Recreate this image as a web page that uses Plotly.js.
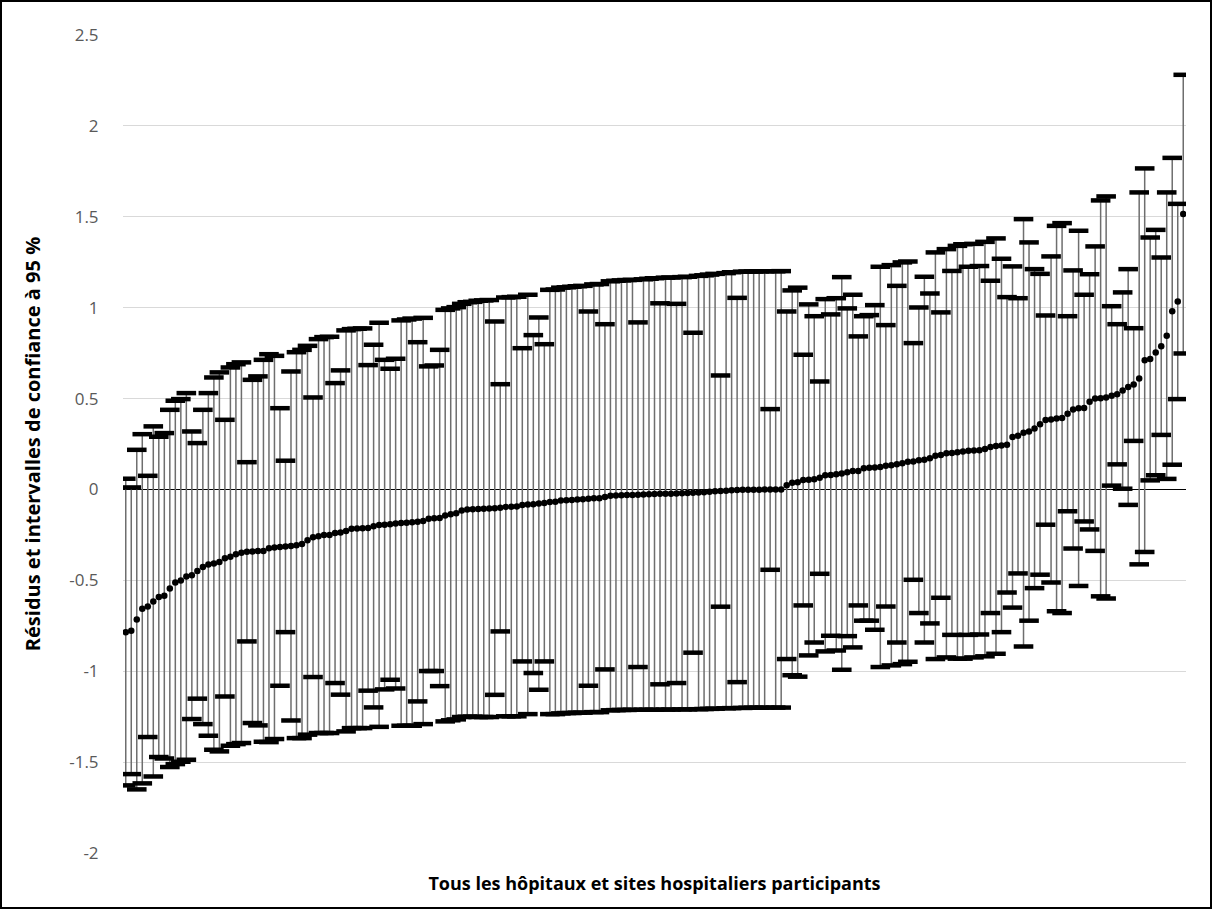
<!DOCTYPE html>
<html>
<head>
<meta charset="utf-8">
<script src="https://cdn.plot.ly/plotly-3.0.1.min.js"></script>
<style>
  html, body { margin: 0; padding: 0; background: #fff; overflow: hidden; }
  #wrap { position: relative; width: 1212px; height: 909px; }
  #chart { width: 1212px; height: 909px; }
  #frame { position: absolute; left: 0; top: 0; width: 1212px; height: 909px; box-sizing: border-box; border: 2px solid #000; pointer-events: none; }
</style>
</head>
<body>
<div id="wrap"><div id="chart"></div><div id="frame"></div></div>
<script>
// Residuals (sorted) and 95% confidence bounds for each participating hospital/site
const residual = [
-0.785,-0.778,-0.716,-0.657,-0.644,-0.616,-0.591,-0.585,-0.545,-0.512,
-0.501,-0.479,-0.472,-0.448,-0.427,-0.413,-0.408,-0.399,-0.378,-0.370,
-0.356,-0.348,-0.343,-0.341,-0.338,-0.338,-0.323,-0.319,-0.317,-0.314,
-0.311,-0.307,-0.300,-0.280,-0.263,-0.257,-0.251,-0.250,-0.240,-0.237,
-0.228,-0.216,-0.215,-0.214,-0.212,-0.202,-0.195,-0.194,-0.192,-0.188,
-0.185,-0.183,-0.180,-0.178,-0.174,-0.161,-0.159,-0.157,-0.144,-0.137,
-0.131,-0.116,-0.110,-0.109,-0.107,-0.106,-0.105,-0.103,-0.101,-0.096,
-0.095,-0.094,-0.085,-0.083,-0.081,-0.078,-0.074,-0.069,-0.068,-0.061,
-0.059,-0.058,-0.055,-0.054,-0.051,-0.049,-0.048,-0.041,-0.035,-0.033,
-0.032,-0.031,-0.030,-0.029,-0.028,-0.027,-0.025,-0.024,-0.023,-0.023,
-0.022,-0.021,-0.020,-0.018,-0.017,-0.015,-0.013,-0.010,-0.009,-0.007,
-0.004,-0.003,-0.002,-0.001,-0.001,-0.001,0.000,0.000,0.000,0.000,
0.023,0.037,0.040,0.052,0.053,0.056,0.065,0.078,0.079,0.083,
0.088,0.095,0.101,0.102,0.116,0.119,0.121,0.124,0.130,0.133,
0.139,0.144,0.153,0.154,0.161,0.164,0.171,0.186,0.189,0.199,
0.201,0.205,0.209,0.213,0.214,0.216,0.222,0.234,0.239,0.242,
0.246,0.289,0.295,0.312,0.319,0.335,0.359,0.382,0.385,0.390,
0.393,0.417,0.440,0.446,0.448,0.482,0.500,0.501,0.506,0.515,
0.524,0.544,0.564,0.577,0.611,0.711,0.718,0.753,0.788,0.846,
0.980,1.034,1.515
];
const upperCI = [
0.059,0.011,0.218,0.304,0.075,0.347,0.290,0.310,0.438,0.488,
0.497,0.530,0.319,0.255,0.438,0.530,0.616,0.644,0.383,0.671,
0.689,0.699,0.150,0.603,0.622,0.713,0.744,0.735,0.447,0.158,
0.649,0.755,0.768,0.790,0.506,0.827,0.838,0.840,0.585,0.655,
0.875,0.882,0.884,0.886,0.684,0.796,0.917,0.713,0.664,0.719,
0.930,0.935,0.940,0.810,0.944,0.677,0.682,0.768,0.988,0.996,
1.003,1.021,1.030,1.032,1.038,1.040,1.042,0.924,0.579,1.056,
1.058,1.060,0.777,1.071,0.849,0.946,0.799,1.098,1.100,1.110,
1.112,1.115,1.118,1.120,0.979,1.128,1.130,0.909,1.145,1.148,
1.150,1.152,1.153,0.919,1.156,1.159,1.162,1.024,1.165,1.166,
1.021,1.168,1.170,0.862,1.175,1.178,1.182,1.186,0.627,1.190,
1.195,1.054,1.198,1.199,1.199,1.200,1.200,0.442,1.200,1.201,
0.979,1.095,1.110,0.741,1.018,0.953,0.594,1.047,0.963,1.052,
1.168,0.996,1.071,0.842,0.953,0.959,1.014,1.225,0.904,1.234,
1.120,1.249,1.254,0.805,1.001,1.170,1.078,1.304,0.974,1.322,
1.202,1.340,1.349,1.225,1.351,1.229,1.362,1.148,1.381,1.269,
1.058,1.227,1.052,1.487,1.359,1.212,1.186,0.957,1.282,1.450,
1.465,0.953,1.205,1.423,1.071,1.184,1.337,1.590,1.612,1.008,
0.909,1.084,1.212,0.887,1.634,1.766,1.386,1.428,1.276,1.634,
1.824,1.571,2.281
];
const lowerCI = [
-1.628,-1.566,-1.650,-1.617,-1.362,-1.579,-1.472,-1.480,-1.527,-1.511,
-1.498,-1.487,-1.263,-1.151,-1.291,-1.355,-1.432,-1.441,-1.139,-1.410,
-1.401,-1.395,-0.836,-1.285,-1.298,-1.388,-1.390,-1.373,-1.080,-0.785,
-1.271,-1.368,-1.368,-1.349,-1.032,-1.340,-1.340,-1.340,-1.065,-1.129,
-1.331,-1.313,-1.313,-1.313,-1.107,-1.199,-1.306,-1.100,-1.047,-1.095,
-1.300,-1.300,-1.300,-1.166,-1.291,-0.999,-0.999,-1.082,-1.276,-1.270,
-1.265,-1.252,-1.250,-1.250,-1.252,-1.252,-1.252,-1.130,-0.781,-1.248,
-1.248,-1.248,-0.946,-1.236,-1.010,-1.102,-0.946,-1.236,-1.236,-1.232,
-1.230,-1.230,-1.228,-1.228,-1.080,-1.225,-1.225,-0.990,-1.215,-1.214,
-1.213,-1.213,-1.212,-0.977,-1.212,-1.212,-1.212,-1.072,-1.211,-1.211,
-1.065,-1.210,-1.210,-0.898,-1.209,-1.208,-1.207,-1.206,-0.645,-1.204,
-1.203,-1.060,-1.202,-1.201,-1.201,-1.201,-1.200,-0.442,-1.200,-1.200,
-0.933,-1.022,-1.030,-0.638,-0.913,-0.842,-0.464,-0.891,-0.805,-0.886,
-0.992,-0.807,-0.869,-0.638,-0.722,-0.722,-0.772,-0.977,-0.644,-0.968,
-0.842,-0.961,-0.948,-0.497,-0.680,-0.842,-0.737,-0.933,-0.596,-0.924,
-0.800,-0.931,-0.931,-0.800,-0.924,-0.798,-0.918,-0.680,-0.904,-0.785,
-0.567,-0.650,-0.462,-0.864,-0.722,-0.543,-0.469,-0.194,-0.512,-0.670,
-0.680,-0.120,-0.325,-0.531,-0.176,-0.220,-0.338,-0.588,-0.600,0.021,
0.138,0.004,-0.085,0.267,-0.412,-0.344,0.050,0.078,0.300,0.058,
0.136,0.497,0.748
];
const yTickVals = [-2, -1.5, -1, -0.5, 0, 0.5, 1, 1.5, 2, 2.5];
const yTickText = ['-2', '-1.5', '-1', '-0.5', '0', '0.5', '1', '1.5', '2', '2.5'];
const xTitle = 'Tous les hôpitaux et sites hospitaliers participants';
const yTitle = 'Résidus et intervalles de confiance à 95 %';

const rank = residual.map((_, i) => i + 1);
const plus = upperCI.map((u, i) => u - residual[i]);
const minus = lowerCI.map((l, i) => residual[i] - l);
const FONT = 'Open Sans, Noto Sans, sans-serif';

const traces = [
  { // vertical CI lines
    type: 'scatter', mode: 'markers', x: rank, y: residual,
    marker: { size: 0.1, color: 'rgba(0,0,0,0)' },
    error_y: { type: 'data', symmetric: false, array: plus, arrayminus: minus,
               width: 0, color: '#6e6e6e', thickness: 1.5 },
    hoverinfo: 'skip', showlegend: false
  },
  { // upper caps
    type: 'scatter', mode: 'markers', x: rank, y: upperCI,
    marker: { symbol: 'line-ew', size: 14, line: { width: 4.5, color: '#000' } },
    showlegend: false
  },
  { // lower caps
    type: 'scatter', mode: 'markers', x: rank, y: lowerCI,
    marker: { symbol: 'line-ew', size: 14, line: { width: 4.5, color: '#000' } },
    showlegend: false
  },
  { // residual points
    type: 'scatter', mode: 'markers', x: rank, y: residual,
    marker: { symbol: 'circle', size: 6.5, color: '#000' },
    showlegend: false
  }
];

const layout = {
  width: 1212, height: 909,
  margin: { l: 123, r: 26, t: 35, b: 56 },
  paper_bgcolor: '#fff', plot_bgcolor: '#fff',
  showlegend: false,
  font: { family: FONT },
  xaxis: {
    range: [0.5, rank.length + 0.5],
    showticklabels: false, showgrid: false, zeroline: false,
    showline: false, ticks: '',
    title: { text: xTitle, font: { size: 18, color: '#000', family: FONT, weight: 'bold' }, standoff: 24 }
  },
  yaxis: {
    range: [-2, 2.5],
    tickmode: 'array', tickvals: yTickVals, ticktext: yTickText,
    tickfont: { size: 17, color: '#595959', family: FONT },
    ticks: 'outside', ticklen: 20, tickcolor: 'rgba(0,0,0,0)',
    showgrid: true, gridcolor: '#d9d9d9', gridwidth: 1,
    zeroline: true, zerolinecolor: '#000', zerolinewidth: 1.8,
    showline: false,
    title: { text: yTitle, font: { size: 20, color: '#000', family: FONT, weight: 'bold' }, standoff: 23 }
  }
};

Plotly.newPlot('chart', traces, layout, { displayModeBar: false, staticPlot: true });
</script>
</body>
</html>
